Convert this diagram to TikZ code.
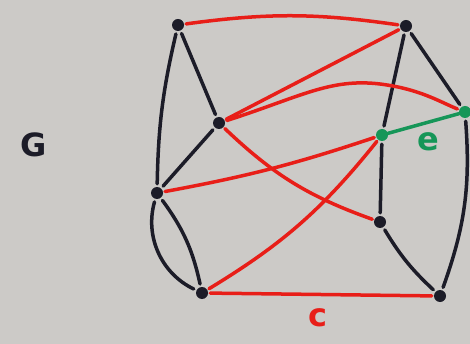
\documentclass[tikz,border=0pt]{standalone}
\usepackage{fontspec}
\setmainfont{DejaVu Sans}
\definecolor{paper}{RGB}{204,202,199}
\definecolor{ink}{RGB}{28,28,40}
\definecolor{redink}{RGB}{232,30,24}
\definecolor{greenink}{RGB}{22,150,88}
\begin{document}
\begin{tikzpicture}[x=1pt,y=-1pt,
  vtx/.style={circle,fill=ink,inner sep=0pt,minimum size=12pt},
  gvtx/.style={circle,fill=greenink,inner sep=0pt,minimum size=12pt},
  bl/.style={draw=ink,line width=3.5pt,line cap=round,shorten >=3pt,shorten <=3pt},
  rd/.style={draw=redink,line width=3.5pt,line cap=round,shorten >=2pt,shorten <=2pt},
  gr/.style={draw=greenink,line width=3.5pt,line cap=round},
  lbl/.style={font=\bfseries\fontsize{32}{32}\selectfont}]
\fill[paper] (0,0) rectangle (470,344);
\useasboundingbox (0,0) rectangle (470,344);
\node[vtx] (A) at (178,25) {};
\node[vtx] (B) at (406,26) {};
\node[vtx] (C) at (219,123) {};
\node[gvtx] (D) at (465,112) {};
\node[gvtx] (E) at (382,135) {};
\node[vtx] (F) at (157,193) {};
\node[vtx] (H) at (380,222) {};
\node[vtx] (I) at (202,293) {};
\node[vtx] (J) at (440,296) {};
% black edges
\draw[bl] (A) to[bend right=6] (F);
\draw[bl] (A) -- (C);
\draw[bl] (C) -- (F);
\draw[bl] (F) to[bend right=40] (I);
\draw[bl] (F) to[bend left=12] (I);
\draw[bl] (B) -- (E);
\draw[bl] (B) -- (D);
\draw[bl] (E) -- (H);
\draw[bl] (H) to[bend right=8] (J);
\draw[bl] (D) to[bend left=12] (J);
% red edges
\draw[rd] (A) to[bend left=8] (B);
\draw[rd] (C) -- (B);
\draw[rd] (C) .. controls (300,97) and (330,78) .. (380,84) .. controls (420,89) and (440,102) .. (D);
\draw[rd] (C) to[bend right=12] (H);
\draw[rd] (F) to[bend right=4] (E);
\draw[rd] (I) to[bend right=10] (E);
\draw[rd] (I) -- (J);
% green edge
\draw[gr] (E) -- (D);
% labels
\node[lbl,text=ink] (G) at (34,145) {G};
\node[lbl,text=greenink] (le) at (428,142) {e};
\node[lbl,text=redink] (lc) at (318,318) {c};
\end{tikzpicture}
\end{document}
